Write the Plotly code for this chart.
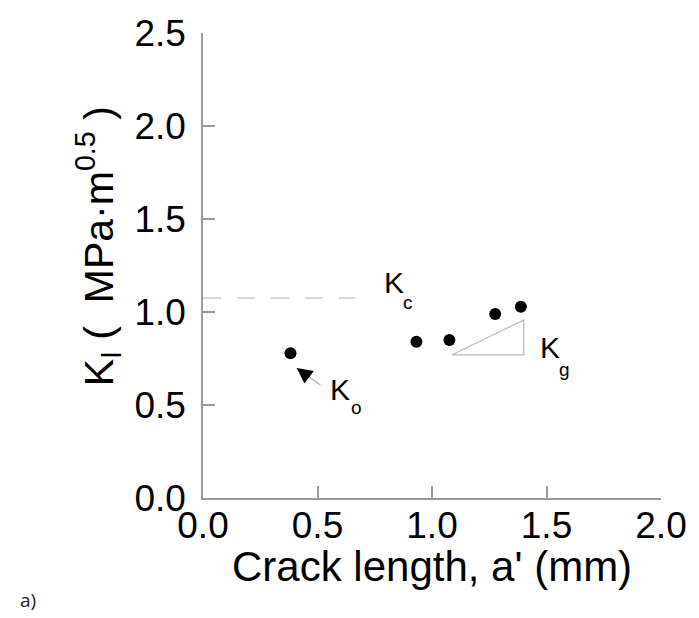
import plotly.graph_objects as go

# ---- data ----
crack_length = [0.382, 0.932, 1.076, 1.276, 1.388]
k_i = [0.778, 0.840, 0.849, 0.989, 1.028]

kc_value = 1.075
kc_x = [0.0, 0.665]

tri_x = [1.086, 1.401, 1.401, 1.086]
tri_y = [0.769, 0.769, 0.957, 0.769]

x_ticks = [0.0, 0.5, 1.0, 1.5, 2.0]
x_ticklabels = ["0.0", "0.5", "1.0", "1.5", "2.0"]
y_ticks = [0.0, 0.5, 1.0, 1.5, 2.0, 2.5]
y_ticklabels = ["0.0", "0.5", "1.0", "1.5", "2.0", "2.5"]

ko_head = (0.409, 0.699)
ko_tail = (0.513, 0.608)

FONT = "Liberation Sans, Arial, sans-serif"
AXIS_GREY = "#9a9a9a"

fig = go.Figure()

# Kc dashed line
fig.add_trace(go.Scatter(
    x=kc_x, y=[kc_value, kc_value], mode="lines",
    line=dict(color="#b0b0b0", width=1, dash="18px,16px"),
    hoverinfo="skip", showlegend=False))

# Kg triangle
fig.add_trace(go.Scatter(
    x=tri_x, y=tri_y, mode="lines",
    line=dict(color="#b8b8b8", width=1.2),
    hoverinfo="skip", showlegend=False))

# Ko arrow shaft (grey)
fig.add_trace(go.Scatter(
    x=[ko_tail[0], ko_head[0]], y=[ko_tail[1], ko_head[1]], mode="lines",
    line=dict(color="#b0b0b0", width=1.2),
    hoverinfo="skip", showlegend=False))

# data points
fig.add_trace(go.Scatter(
    x=crack_length, y=k_i, mode="markers",
    marker=dict(color="black", size=12),
    showlegend=False))

annotations = []

# Ko arrowhead (black)
annotations.append(dict(
    x=ko_head[0], y=ko_head[1], xref="x", yref="y",
    ax=8, ay=6, axref="pixel", ayref="pixel",
    showarrow=True, arrowhead=2, arrowsize=2.6, arrowwidth=1.2,
    arrowcolor="black", text=""))

def label(x, y, text, size):
    annotations.append(dict(
        x=x, y=y, xref="x", yref="y", text=text, showarrow=False,
        font=dict(family=FONT, size=size, color="black"),
        xanchor="center", yanchor="middle"))

# pixel -> data helpers only for label placement
def px2x(px):
    return (px - 203) / 232.0

def py2y(py):
    return (498 - py) / 186.0

label(px2x(396), py2y(282), "K", 30)
label(px2x(411), py2y(302), "c", 19)
label(px2x(555), py2y(347), "K", 30)
label(px2x(569), py2y(369), "g", 19)
label(px2x(342), py2y(389), "K", 30)
label(px2x(358), py2y(407), "o", 19)

# axis titles as annotations
annotations.append(dict(
    x=0.5, y=-0.148, xref="paper", yref="paper",
    text="Crack length, a' (mm)", showarrow=False,
    font=dict(family=FONT, size=42, color="black"),
    xanchor="center", yanchor="middle"))

annotations.append(dict(
    x=(97 - 203) / 464.0, y=(498 - 246) / 465.0, xref="paper", yref="paper",
    text="K<sub>I</sub>\u00a0(\u00a0\u00a0MPa·m<sup>0.5</sup>\u00a0)", showarrow=False,
    textangle=-90,
    font=dict(family=FONT, size=41, color="black"),
    xanchor="center", yanchor="middle"))

# panel label
annotations.append(dict(
    x=(26 - 203) / 464.0, y=(498 - 600) / 465.0, xref="paper", yref="paper",
    text="a)", showarrow=False,
    font=dict(family="Open Sans, sans-serif", size=19, color="#222"),
    xanchor="center", yanchor="middle"))

fig.update_layout(
    width=699, height=618,
    margin=dict(l=203, r=32, t=33, b=120, pad=0),
    paper_bgcolor="white", plot_bgcolor="white",
    annotations=annotations,
    font=dict(family=FONT, color="black"),
)

fig.update_xaxes(
    range=[0, 2], tickvals=x_ticks, ticktext=x_ticklabels,
    showgrid=False, zeroline=False, showline=True,
    linecolor=AXIS_GREY, linewidth=1.5,
    ticks="inside", ticklen=12, tickwidth=1.5, tickcolor=AXIS_GREY,
    tickfont=dict(family=FONT, size=37, color="black"),
    ticklabelstandoff=-6,
)
fig.update_yaxes(
    range=[0, 2.5], tickvals=y_ticks, ticktext=y_ticklabels,
    showgrid=False, zeroline=False, showline=True,
    linecolor=AXIS_GREY, linewidth=1.5,
    ticks="inside", ticklen=12, tickwidth=1.5, tickcolor=AXIS_GREY,
    tickfont=dict(family=FONT, size=37, color="black"),
    ticklabelstandoff=8,
)

fig.write_html("out.html")
